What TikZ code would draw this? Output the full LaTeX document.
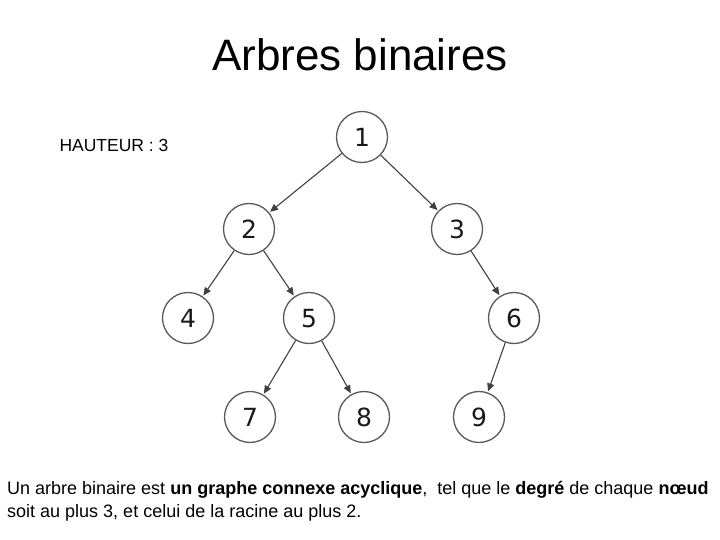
\documentclass[tikz,border=0pt]{standalone}
\usepackage{fontspec}
\setmainfont{Liberation Sans}
\newfontfamily\digitfont{DejaVu Sans}
\usetikzlibrary{arrows.meta}
\begin{document}
\begin{tikzpicture}[x=1pt,y=-1pt,
  tnode/.style={circle,draw=black!65,line width=1.3pt,minimum size=51pt,inner sep=0pt,text height=18.2pt,text depth=0pt,font=\digitfont\fontsize{25}{25}\selectfont,text=black!90},
  edge/.style={draw=black!75,line width=1.1pt,-{Triangle[length=8pt,width=7pt]},shorten >=1pt}]
\useasboundingbox (0,0) rectangle (720,540);
\node (title) at (360,55) {\fontsize{44}{44}\selectfont Arbres binaires};
\node[anchor=west] (h) at (56,145) {\fontsize{17.5}{17.5}\selectfont HAUTEUR : 3};
\node[tnode] (n1) at (362,137) {1};
\node[tnode] (n2) at (249,229) {2};
\node[tnode] (n3) at (457,229) {3};
\node[tnode] (n4) at (188,318) {4};
\node[tnode] (n5) at (309,318) {5};
\node[tnode] (n6) at (514,318) {6};
\node[tnode] (n7) at (250,417) {7};
\node[tnode] (n8) at (364,417) {8};
\node[tnode] (n9) at (479,417) {9};
\draw[edge] (n1) -- (n2);
\draw[edge] (n1) -- (n3);
\draw[edge] (n2) -- (n4);
\draw[edge] (n2) -- (n5);
\draw[edge] (n3) -- (n6);
\draw[edge] (n5) -- (n7);
\draw[edge] (n5) -- (n8);
\draw[edge] (n6) -- (n9);
\node[anchor=west,inner sep=0pt] (t1) at (7,490) {\fontsize{18}{18}\selectfont Un arbre binaire est \textbf{un graphe connexe acyclique},\ \ tel que le \textbf{degré} de chaque \textbf{nœud}};
\node[anchor=west,inner sep=0pt] (t2) at (7,513) {\fontsize{18}{18}\selectfont soit au plus 3, et celui de la racine au plus 2.};
\end{tikzpicture}
\end{document}
